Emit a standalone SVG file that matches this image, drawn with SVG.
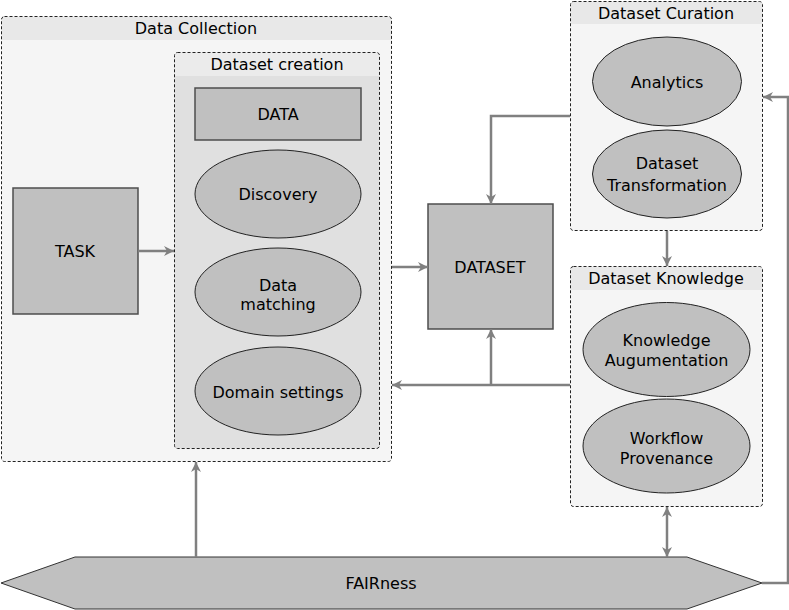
<svg xmlns="http://www.w3.org/2000/svg" width="789" height="610" viewBox="0 0 789 610">
<defs>
<style>
text{font-family:"DejaVu Sans","Liberation Sans",sans-serif;font-size:16px;fill:#000;text-anchor:middle}
.grp{stroke:#222;stroke-width:1;stroke-dasharray:3 2}
.node{fill:#c0c0c0;stroke:#222;stroke-width:1}
.box{fill:#c0c0c0;stroke:#4d4d4d;stroke-width:1.5}
.edge{fill:none;stroke:#808080;stroke-width:2.5}
</style>
<marker id="arr" viewBox="0 0 10 10" refX="10" refY="5" markerWidth="10" markerHeight="10" markerUnits="userSpaceOnUse" orient="auto-start-reverse">
<path d="M0,0 L10,5 L0,10 L3,5 z" fill="#808080"/>
</marker>
</defs>
<rect width="789" height="610" fill="#fff"/>

<g id="data-collection">
<rect x="1.5" y="16.5" width="390" height="445" rx="3" fill="#f5f5f5"/>
<path d="M1.5,40 V19.5 a3,3 0 0 1 3,-3 H388.5 a3,3 0 0 1 3,3 V40 z" fill="#e8e8e8"/>
<rect x="1.5" y="16.5" width="390" height="445" rx="3" fill="none" class="grp"/>
<text x="196" y="34">Data Collection</text>
</g>

<g id="dataset-creation">
<rect x="174.5" y="52.5" width="205" height="396" rx="3" fill="#e0e0e0"/>
<path d="M174.5,76 V55.5 a3,3 0 0 1 3,-3 H376.5 a3,3 0 0 1 3,3 V76 z" fill="#ebebeb"/>
<rect x="174.5" y="52.5" width="205" height="396" rx="3" fill="none" class="grp"/>
<text x="277" y="70">Dataset creation</text>
</g>

<g id="data">
<rect class="box" x="195" y="88" width="166" height="52"/>
<text x="278" y="120">DATA</text>
</g>
<g id="discovery">
<ellipse class="node" cx="278" cy="194" rx="83" ry="44"/>
<text x="278" y="200">Discovery</text>
</g>
<g id="data-matching">
<ellipse class="node" cx="278" cy="292" rx="83" ry="44"/>
<text x="278" y="291">Data</text>
<text x="278" y="310">matching</text>
</g>
<g id="domain-settings">
<ellipse class="node" cx="278" cy="391" rx="83" ry="44"/>
<text x="278" y="398">Domain settings</text>
</g>

<g id="task">
<rect class="box" x="13" y="188" width="125" height="126"/>
<text x="75" y="257">TASK</text>
</g>

<g id="dataset">
<rect class="box" x="428" y="204" width="125" height="125"/>
<text x="490" y="273">DATASET</text>
</g>

<g id="dataset-curation">
<rect x="570.5" y="1.5" width="192" height="229" rx="3" fill="#f5f5f5"/>
<path d="M570.5,24 V4.5 a3,3 0 0 1 3,-3 H759.5 a3,3 0 0 1 3,3 V24 z" fill="#e8e8e8"/>
<rect x="570.5" y="1.5" width="192" height="229" rx="3" fill="none" class="grp"/>
<text x="666" y="19">Dataset Curation</text>
</g>
<g id="analytics">
<ellipse class="node" cx="667" cy="81.5" rx="74.5" ry="44.5"/>
<text x="667" y="88">Analytics</text>
</g>
<g id="dataset-transformation">
<ellipse class="node" cx="667" cy="174" rx="74.5" ry="44"/>
<text x="667" y="169">Dataset</text>
<text x="667" y="191">Transformation</text>
</g>

<g id="dataset-knowledge">
<rect x="570.5" y="266.5" width="192" height="240" rx="3" fill="#f5f5f5"/>
<path d="M570.5,290 V269.5 a3,3 0 0 1 3,-3 H759.5 a3,3 0 0 1 3,3 V290 z" fill="#e8e8e8"/>
<rect x="570.5" y="266.5" width="192" height="240" rx="3" fill="none" class="grp"/>
<text x="666" y="284">Dataset Knowledge</text>
</g>
<g id="knowledge-augumentation">
<ellipse class="node" cx="666.5" cy="349.5" rx="83.5" ry="47"/>
<text x="666.5" y="346">Knowledge</text>
<text x="666.5" y="366">Augumentation</text>
</g>
<g id="workflow-provenance">
<ellipse class="node" cx="666.5" cy="446" rx="83.5" ry="47"/>
<text x="666.5" y="444">Workflow</text>
<text x="666.5" y="464">Provenance</text>
</g>

<g id="fairness">
<polygon points="1,583 75,557 687,557 762,583 687,609 75,609" fill="#c0c0c0" stroke="#333" stroke-width="1"/>
<text x="381" y="589">FAIRness</text>
</g>

<g id="connectors">
<path class="edge" d="M138,251 H174" marker-end="url(#arr)"/>
<path class="edge" d="M392,267 H428" marker-end="url(#arr)"/>
<path class="edge" d="M570,116 H491 V204" marker-end="url(#arr)"/>
<path class="edge" d="M570,385 H392" marker-end="url(#arr)"/>
<path class="edge" d="M491,385 V329" marker-end="url(#arr)"/>
<path class="edge" d="M196,557 V462" marker-end="url(#arr)"/>
<path class="edge" d="M667,231 V266" marker-end="url(#arr)"/>
<path class="edge" d="M667,557 V507" marker-start="url(#arr)" marker-end="url(#arr)"/>
<path class="edge" d="M762,583 H788 V97 H763" marker-end="url(#arr)"/>
</g>
</svg>
